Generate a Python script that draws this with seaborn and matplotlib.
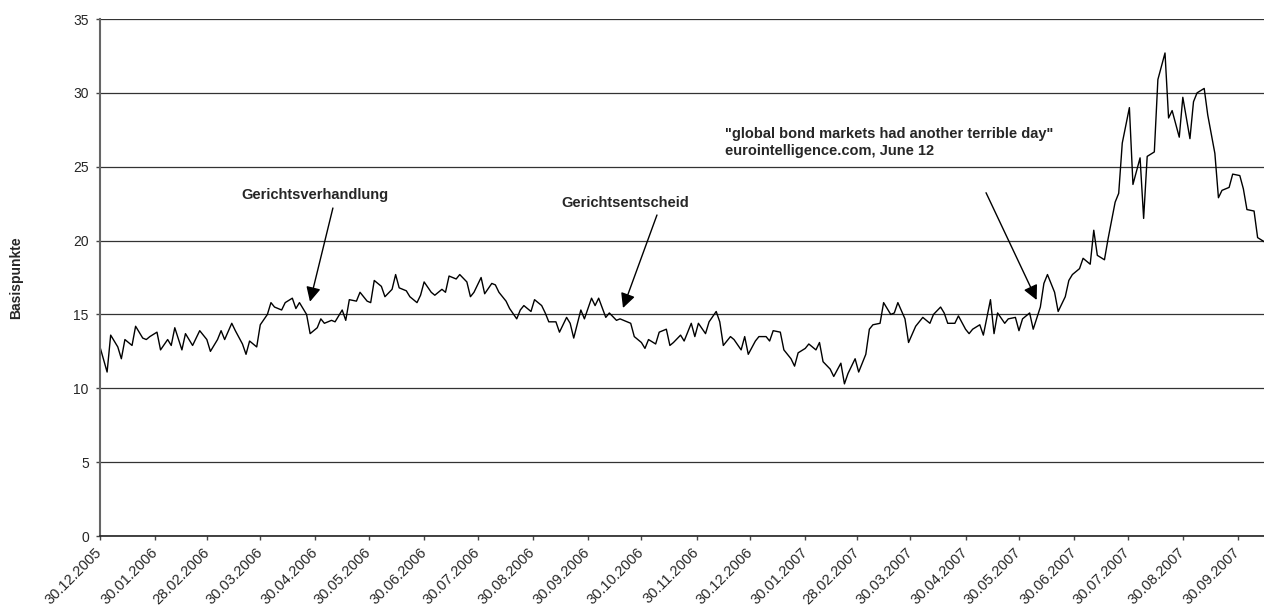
import pandas as pd
import matplotlib
matplotlib.use('Agg')
import matplotlib.pyplot as plt
import seaborn as sns

# spread in basis points, one value every second business day from 30.12.2005
start_date = '2005-12-30'
spread_2006_q1 = [12.8, 11.1, 13.6, 12.8, 12.0, 13.3, 12.9, 14.2, 13.4, 13.3,
                  13.5, 13.8, 12.6, 13.3, 12.9, 14.1, 12.6, 13.7, 12.9, 13.4,
                  13.9, 13.3, 12.5, 13.3, 13.9, 13.3, 14.4, 13.9, 13.0, 12.3,
                  13.2, 12.8, 14.3, 15.0, 15.8, 15.5, 15.3, 15.8, 16.1, 15.4,
                  15.8]
spread_2006_q2 = [15.0, 13.7, 14.1, 14.7, 14.4, 14.6, 14.5, 15.3, 14.6, 16.0,
                  15.9, 16.5, 15.9, 15.8, 17.3, 16.9, 16.2, 16.7, 17.7, 16.8,
                  16.6, 16.2, 15.8, 16.3, 17.2, 16.5, 16.3, 16.7, 16.5, 17.6,
                  17.4, 17.7, 17.2, 16.2, 16.5, 17.5, 16.4, 17.1, 17.0, 16.5]
spread_2006_q3 = [15.9, 15.4, 14.7, 15.3, 15.6, 15.2, 16.0, 15.6, 15.1, 14.5,
                  14.5, 13.8, 14.8, 14.4, 13.4, 15.3, 14.7, 16.1, 15.6, 16.1,
                  14.8, 15.1, 14.6, 14.7, 14.6, 14.4, 13.5, 13.1, 12.7, 13.3,
                  13.0, 13.8, 14.0, 12.9, 13.1, 13.6, 13.2, 14.4, 13.5, 14.4]
spread_2007_q1 = [13.7, 14.5, 15.2, 14.5, 12.9, 13.5, 13.3, 12.6, 13.5, 12.3,
                  13.2, 13.5, 13.5, 13.2, 13.9, 13.8, 12.6, 12.0, 11.5, 12.4,
                  12.7, 13.0, 12.6, 13.1, 11.8, 11.3, 10.8, 11.7, 10.3, 11.0,
                  12.0, 11.1, 12.3, 14.0, 14.3, 14.4, 15.8, 15.0, 15.1, 15.8]
spread_2007_q2 = [14.7, 13.1, 14.2, 14.5, 14.8, 14.4, 15.0, 15.5, 15.1, 14.4,
                  14.4, 14.9, 14.0, 13.7, 14.0, 14.3, 13.6, 16.0, 13.7, 15.1,
                  14.4, 14.7, 14.8, 13.9, 14.7, 15.1, 14.0, 15.5, 17.1, 17.7,
                  16.5, 15.2, 16.2, 17.3, 17.7, 18.1]
spread_2007_q3 = [18.8, 18.4, 20.7, 19.0, 18.7, 20.1, 22.6, 23.2, 26.6, 29.0,
                  23.8, 25.6, 21.5, 25.7, 26.0, 30.9, 32.7, 28.3, 28.8, 27.0,
                  29.7, 26.9, 29.4, 30.0, 30.3, 28.5, 25.9, 22.9, 23.4, 23.6,
                  24.5, 24.4, 23.5, 22.1, 22.0, 20.2, 19.9]

tick_dates = ['2005-12-30', '2006-01-30', '2006-02-28', '2006-03-30', '2006-04-30',
              '2006-05-30', '2006-06-30', '2006-07-30', '2006-08-30', '2006-09-30',
              '2006-10-30', '2006-11-30', '2006-12-30', '2007-01-30', '2007-02-28',
              '2007-03-30', '2007-04-30', '2007-05-30', '2007-06-30', '2007-07-30',
              '2007-08-30', '2007-09-30']
y_ticks = [0, 5, 10, 15, 20, 25, 30, 35]

notes = ['Gerichtsverhandlung', 'Gerichtsentscheid',
         '"global bond markets had another terrible day"\neurointelligence.com, June 12']


def main():
    sns.set_style('white')
    plt.rcParams['font.family'] = ['Liberation Sans', 'DejaVu Sans']

    values = (spread_2006_q1 + spread_2006_q2 + spread_2006_q3
              + spread_2007_q1 + spread_2007_q2 + spread_2007_q3)
    dates = pd.bdate_range(start_date, periods=len(values), freq='2B')
    df = pd.DataFrame({'date': dates, 'bp': values})

    fig = plt.figure(figsize=(12.64, 6.13), dpi=100)
    ax = fig.add_axes([0.0791, 0.1256, 0.9209, 0.8434])
    sns.lineplot(data=df, x='date', y='bp', color='black', linewidth=1.0, ax=ax)

    ax.set_xlim(pd.Timestamp(start_date), pd.Timestamp('2007-10-14 14:00'))
    ax.set_ylim(0, 35)
    ax.set_yticks(y_ticks)
    ticks = pd.to_datetime(tick_dates)
    ax.set_xticks(ticks)
    ax.set_xticklabels([t.strftime('%d.%m.%Y') for t in ticks], rotation=45,
                       ha='right', va='center', rotation_mode='anchor',
                       fontsize=10.5)

    ax.yaxis.grid(True, color='#333333', linewidth=0.9)
    ax.xaxis.grid(False)
    sns.despine(ax=ax)
    ax.spines['left'].set_color('#666666')
    ax.spines['left'].set_linewidth(1.5)
    ax.spines['bottom'].set_color('#222222')
    ax.spines['bottom'].set_linewidth(1.2)
    ax.tick_params(axis='both', direction='out', length=3, width=1,
                   color='#444444', bottom=True, left=True)
    ax.tick_params(axis='y', pad=5, labelsize=10)
    ax.tick_params(axis='x', pad=7)

    ax.set_xlabel('')
    ax.set_ylabel('Basispunkte', fontweight='bold', fontsize=10)
    ax.yaxis.set_label_coords(-0.066, 0.5)

    # annotations (axes fraction)
    ax.text(0.1847, 0.6596, notes[0], ha='center', va='center', fontsize=10.5,
            fontweight='bold', transform=ax.transAxes)
    ax.text(0.4510, 0.6441, notes[1], ha='center', va='center', fontsize=10.5,
            fontweight='bold', transform=ax.transAxes)
    ax.text(0.5369, 0.761, notes[2], ha='left', va='center', fontsize=10.5,
            fontweight='bold', transform=ax.transAxes, linespacing=1.3)

    arrows = [((0.2001, 0.6344), (0.1804, 0.4532)),
              ((0.4785, 0.6209), (0.4493, 0.4410)),
              ((0.7612, 0.6640), (0.8047, 0.4565))]
    for start, tip in arrows:
        ax.annotate('', xy=tip, xycoords='axes fraction', xytext=start,
                    textcoords='axes fraction',
                    arrowprops=dict(arrowstyle='-|>', color='black', lw=1,
                                    mutation_scale=22, shrinkA=0, shrinkB=0))

    fig.savefig('out.png', dpi=100)
    plt.close(fig)


if __name__ == '__main__':
    main()
